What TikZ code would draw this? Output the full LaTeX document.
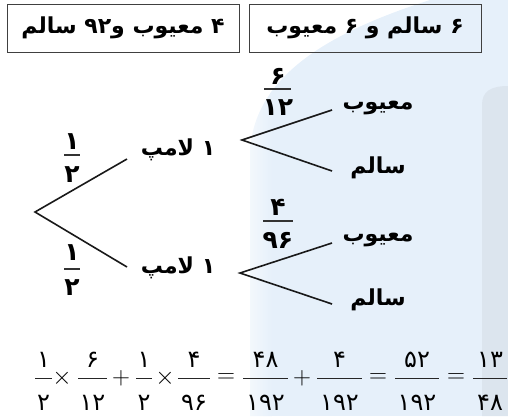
\documentclass[tikz,border=0pt]{standalone}
\usepackage{fontspec}
\newfontfamily\fa[Script=Arabic]{DejaVu Sans}
\newfontfamily\fanum{DejaVu Sans}
\TeXXeTstate=1
\definecolor{bgb}{HTML}{E6F0FA}
\definecolor{bgg}{HTML}{DCE5EE}
\tikzset{
  lbl/.style={font=\fa\bfseries\fontsize{22}{24}\selectfont, inner sep=0pt},
  boxtxt/.style={font=\fa\bfseries\fontsize{22}{24}\selectfont, draw=black!75, line width=1pt, minimum width=232pt, minimum height=48pt, inner sep=0pt},
  br/.style={line width=1.6pt, black!90},
  tfd/.style={font=\fa\bfseries\fontsize{25}{27}\selectfont, inner sep=0pt},
  tbar/.style={line width=1.1pt, black!80},
  eqd/.style={font=\fanum\fontsize{24}{26}\selectfont, inner sep=0pt},
  eqop/.style={font=\fontsize{25}{27}\selectfont, inner sep=0pt},
  ebar/.style={line width=0.9pt, black!85}
}
\newcommand\eqfrac[5]{%
  \node[eqd] (#1n) at (#2,360) {#3};
  \node[eqd] (#1d) at (#2,403) {#4};
  \draw[ebar] (#2-#5,378) -- (#2+#5,378);
}
\begin{document}
\begin{tikzpicture}[x=1pt,y=-1pt]
\useasboundingbox (0,0) rectangle (508,416);
% background watermark
\begin{scope}
  \clip (250,416) -- (250,150) .. controls (255,80) and (320,35) .. (430,0) -- (508,0) -- (508,416) -- cycle;
  \fill[bgb] (270,0) rectangle (508,416);
  \shade[left color=white, right color=bgb] (230,0) rectangle (272,416);
  \fill[bgg] (482,416) -- (482,105) .. controls (482,92) and (490,86) .. (508,86) -- (508,416) -- cycle;
\end{scope}
% boxes
\node[boxtxt] (boxL) at (123,28) {\beginR ۴ معیوب و۹۲ سالم\endR};
\node[boxtxt] (boxR) at (365,28) {\beginR ۶ سالم و ۶ معیوب\endR};
% tree
\coordinate (root) at (35,212);
\coordinate (aU) at (127,159);
\coordinate (aD) at (127,267);
\node[lbl] (lampU) at (178,150) {\beginR ۱ لامپ\endR};
\node[lbl] (lampD) at (178,268) {\beginR ۱ لامپ\endR};
\draw[br] (aU) -- (root) -- (aD);
\coordinate (fU) at (242,140);
\coordinate (fUa) at (332,110);
\coordinate (fUb) at (332,171);
\coordinate (fD) at (240,273);
\coordinate (fDa) at (332,243);
\coordinate (fDb) at (332,304);
\draw[br] (fUa) -- (fU) -- (fUb);
\draw[br] (fDa) -- (fD) -- (fDb);
\node[lbl] (defU) at (378,108) {\beginR معیوب\endR};
\node[lbl] (okU) at (378,168) {\beginR سالم\endR};
\node[lbl] (defD) at (378,240) {\beginR معیوب\endR};
\node[lbl] (okD) at (378,300) {\beginR سالم\endR};
% tree fractions
\node[tfd] (h1n) at (72,142) {۱};
\node[tfd] (h1d) at (72,175) {۲};
\draw[tbar] (64,155) -- (80,155);
\node[tfd] (h2n) at (72,253) {۱};
\node[tfd] (h2d) at (72,288) {۲};
\draw[tbar] (64,269) -- (80,269);
\node[tfd] (p1n) at (278,76) {۶};
\node[tfd] (p1d) at (278,108) {۱۲};
\draw[tbar] (264,89) -- (291,89);
\node[tfd] (p2n) at (278,207) {۴};
\node[tfd] (p2d) at (278,240) {۹۶};
\draw[tbar] (263,221) -- (293,221);
% equation
\eqfrac{e1}{43.5}{۱}{۲}{8.5}
\node[eqop] (x1) at (62,378) {$\times$};
\eqfrac{e2}{92.5}{۶}{۱۲}{14.5}
\node[eqop] (p1) at (121,378) {$+$};
\eqfrac{e3}{144}{۱}{۲}{8}
\node[eqop] (x2) at (165,378) {$\times$};
\eqfrac{e4}{194}{۴}{۹۶}{16}
\node[eqop] (q1) at (226,378) {$=$};
\eqfrac{e5}{265.5}{۴۸}{۱۹۲}{22.5}
\node[eqop] (p2) at (302,378) {$+$};
\eqfrac{e6}{339.5}{۴}{۱۹۲}{22.5}
\node[eqop] (q2) at (378,378) {$=$};
\eqfrac{e7}{417}{۵۲}{۱۹۲}{22}
\node[eqop] (q3) at (456,378) {$=$};
\eqfrac{e8}{490}{۱۳}{۴۸}{17}
\end{tikzpicture}
\end{document}
